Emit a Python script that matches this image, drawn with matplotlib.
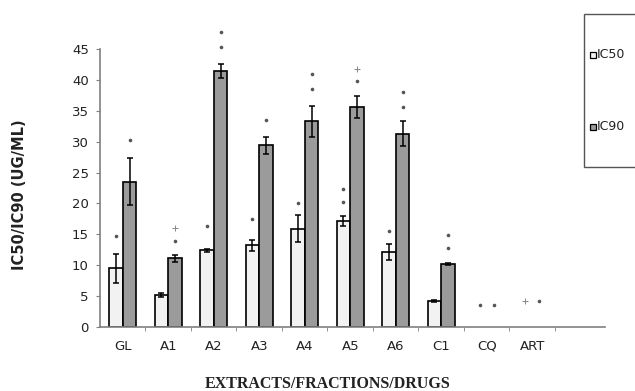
import matplotlib
matplotlib.use("Agg")
import matplotlib.pyplot as plt
from matplotlib.patches import Rectangle
import numpy as np

categories = ["GL", "A1", "A2", "A3", "A4", "A5", "A6", "C1", "CQ", "ART"]
ic50 = [9.5, 5.2, 12.4, 13.2, 15.9, 17.2, 12.2, 4.2, 0.0, 0.0]
ic50_err = [2.3, 0.3, 0.3, 0.9, 2.2, 0.8, 1.3, 0.1, 0.0, 0.0]
ic90 = [23.5, 11.1, 41.4, 29.4, 33.3, 35.6, 31.3, 10.2, 0.0, 0.0]
ic90_err = [3.8, 0.5, 1.1, 1.4, 2.5, 1.8, 2.0, 0.2, 0.0, 0.0]
series_names = ["IC50", "IC90"]

# significance marks: (category index, series 0/1, height, symbol)
sig_marks = [
    (0, 0, 14.7, "*"), (0, 1, 30.3, "*"),
    (1, 1, 14.0, "*"), (1, 1, 16.0, "+"),
    (2, 0, 16.3, "*"), (2, 1, 45.4, "*"), (2, 1, 47.8, "*"),
    (3, 0, 17.5, "*"), (3, 1, 33.5, "*"),
    (4, 0, 20.0, "*"), (4, 1, 38.5, "*"), (4, 1, 41.0, "*"),
    (5, 0, 20.2, "*"), (5, 0, 22.3, "*"), (5, 1, 39.9, "*"), (5, 1, 41.8, "+"),
    (6, 0, 15.5, "*"), (6, 1, 35.6, "*"), (6, 1, 38.0, "*"),
    (7, 1, 12.8, "*"), (7, 1, 14.9, "*"),
    (8, 0, 3.6, "*"), (8, 1, 3.6, "*"),
    (9, 0, 4.2, "+"), (9, 1, 4.2, "*"),
]

light = "#f2f2f2"
dark = "#9b9b9b"
axis_grey = "#808080"

fig = plt.figure(figsize=(6.35, 3.91), dpi=100)
ax = fig.add_axes([100 / 635, 1 - 327 / 391, 505 / 635, 278 / 391])

x = np.arange(len(categories))
w = 0.3
v50, e50 = np.array(ic50), np.array(ic50_err)
v90, e90 = np.array(ic90), np.array(ic90_err)
m50 = v50 > 0
m90 = v90 > 0
ax.bar((x - w / 2)[m50], v50[m50], w, color=light, edgecolor="black", linewidth=1.2, zorder=2)
ax.bar((x + w / 2)[m90], v90[m90], w, color=dark, edgecolor="black", linewidth=1.2, zorder=2)

err_kw = dict(fmt="none", ecolor="black", elinewidth=1.1, capsize=2.5, capthick=1.1, zorder=3)
ax.errorbar((x - w / 2)[m50], v50[m50], yerr=e50[m50], **err_kw)
ax.errorbar((x + w / 2)[m90], v90[m90], yerr=e90[m90], **err_kw)

for ci, s, h, sym in sig_marks:
    xp = x[ci] + (w / 2 if s else -w / 2)
    if sym == "*":
        ax.plot(xp, h, marker="o", ms=2.6, color="#555555", mec="none", zorder=4, clip_on=False)
    else:
        ax.plot(xp, h, marker="+", ms=4, mew=0.7, color="#888888", zorder=4, clip_on=False)

ax.set_xlim(-0.5, 10.6)
ax.set_ylim(0, 45)
ax.set_yticks(np.arange(0, 46, 5))
ax.set_xticks(x)
ax.set_xticklabels(categories)
ax.set_xticks(np.arange(0.5, 10, 1), minor=True)
ax.tick_params(axis="x", which="major", length=0, pad=9, labelsize=9.5, colors="#222222")
ax.tick_params(axis="x", which="minor", length=3, color=axis_grey, direction="out")
ax.tick_params(axis="y", length=3, color=axis_grey, labelsize=9.5, labelcolor="#222222", pad=5)

for side in ("top", "right"):
    ax.spines[side].set_visible(False)
for side in ("left", "bottom"):
    ax.spines[side].set_color(axis_grey)
    ax.spines[side].set_linewidth(1.2)

ax.set_ylabel("IC50/IC90 (UG/ML)", fontsize=10.5, fontweight="bold", color="#222222")
ax.yaxis.set_label_coords(-0.145, 0.475)
ax.set_xlabel("EXTRACTS/FRACTIONS/DRUGS", fontsize=11.5, fontweight="bold",
              family="Liberation Serif", color="#222222")
ax.xaxis.set_label_coords(0.45, -0.175)

# legend frame, running off the right edge of the figure
fig.patches.append(Rectangle((584 / 635, 1 - 167 / 391), 0.2, 153 / 391,
                             transform=fig.transFigure, facecolor="white",
                             edgecolor="#555555", linewidth=1.0))
for name, col, ypix in zip(series_names, [light, dark], [55, 127]):
    fig.patches.append(Rectangle((590 / 635, 1 - (ypix + 3) / 391), 6 / 635, 6 / 391,
                                 transform=fig.transFigure, facecolor=col,
                                 edgecolor="black", linewidth=0.9))
    fig.text(597 / 635, 1 - ypix / 391, name, fontsize=9, va="center", ha="left",
             color="#222222")

fig.savefig("out.png", dpi=100)
